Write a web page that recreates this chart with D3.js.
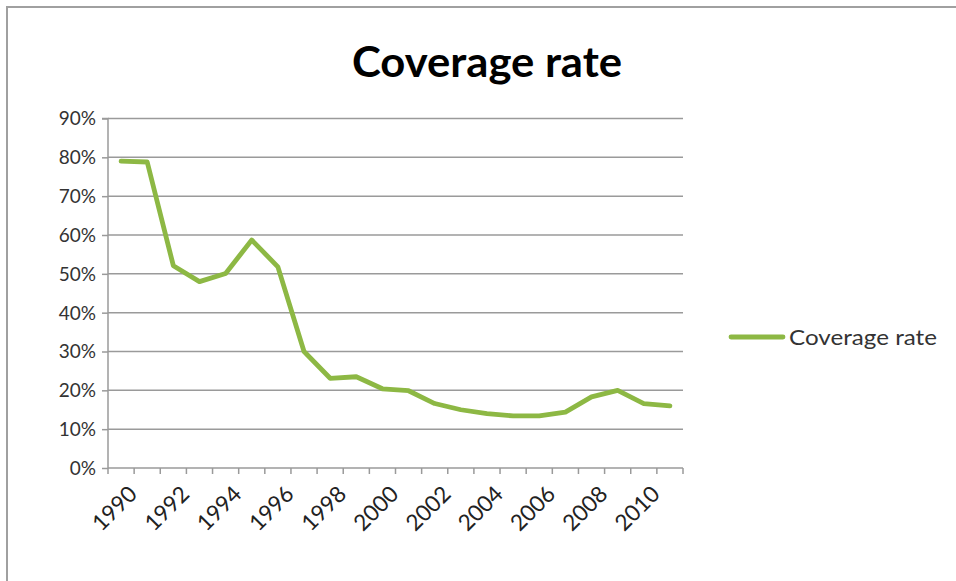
<!DOCTYPE html>
<html><head><meta charset="utf-8">
<script src="https://cdn.jsdelivr.net/npm/d3@7"></script>
<style>html,body{margin:0;padding:0;background:#fff;}svg{display:block;}</style>
</head><body>
<svg id="c" width="956" height="581"></svg>
<script>
const years = ["1990","1991","1992","1993","1994","1995","1996","1997","1998","1999","2000","2001","2002","2003","2004","2005","2006","2007","2008","2009","2010","2011"];
const coverage = [0.790,0.788,0.521,0.480,0.501,0.587,0.518,0.300,0.231,0.235,0.204,0.199,0.166,0.150,0.140,0.134,0.134,0.144,0.183,0.200,0.166,0.160];
const yTicks = [0,0.1,0.2,0.3,0.4,0.5,0.6,0.7,0.8,0.9];
const yearLabels = ["1990","1992","1994","1996","1998","2000","2002","2004","2006","2008","2010"];
const seriesName = "Coverage rate";
const chartTitle = "Coverage rate";

const svg = d3.select("#c");
const font = "Lato, 'Open Sans', sans-serif";
const pLeft = 108, pRight = 683, pTop = 118.5, pBottom = 468;

svg.append("rect").attr("x",7).attr("y",7).attr("width",1100).attr("height",1100)
  .attr("fill","#fff").attr("stroke","#a0a0a0").attr("stroke-width",2);

const x = d3.scaleBand().domain(years).range([pLeft,pRight]).paddingInner(0).paddingOuter(0);
const y = d3.scaleLinear().domain([0,0.9]).range([pBottom,pTop]);

// gridlines
svg.append("g").selectAll("line").data(yTicks.filter(d=>d>0)).join("line")
  .attr("x1",pLeft).attr("x2",pRight).attr("y1",d=>y(d)).attr("y2",d=>y(d))
  .attr("stroke","#9a9a9a").attr("stroke-width",1.5);

// y axis
const yAxis = svg.append("g").attr("transform",`translate(${pLeft},0)`)
  .call(d3.axisLeft(y).tickValues(yTicks).tickFormat(d3.format(".0%")).tickSize(6).tickPadding(6));
yAxis.select(".domain").attr("stroke","#9a9a9a").attr("stroke-width",1.5).attr("d",`M-6,${pTop}H0V${pBottom}`);
yAxis.selectAll(".tick line").attr("stroke","#9a9a9a").attr("stroke-width",1.5);
yAxis.selectAll(".tick text").attr("font-family",font).attr("font-size",19).attr("fill","#333").attr("dy","0.34em");

// x axis
const xAxis = svg.append("g").attr("transform",`translate(0,${pBottom})`);
xAxis.append("line").attr("x1",pLeft).attr("x2",pRight).attr("stroke","#9a9a9a").attr("stroke-width",1.5);
const boundaries = years.map(d=>x(d)).concat([pRight]);
xAxis.selectAll("line.t").data(boundaries).join("line").attr("class","t")
  .attr("x1",d=>d).attr("x2",d=>d).attr("y1",0).attr("y2",6)
  .attr("stroke","#9a9a9a").attr("stroke-width",1.5);
xAxis.selectAll("text").data(yearLabels).join("text")
  .attr("transform",d=>`translate(${x(d)+x.bandwidth()/2+6},${16}) rotate(-45)`)
  .attr("text-anchor","end").attr("dy","0.72em")
  .attr("font-family",font).attr("font-size",22.5).attr("fill","#222").text(d=>d);

// line
const line = d3.line().x((d,i)=>x(years[i])+x.bandwidth()/2).y(d=>y(d));
svg.append("path").datum(coverage).attr("d",line).attr("fill","none")
  .attr("stroke","#8DB844").attr("stroke-width",4.8).attr("stroke-linejoin","round").attr("stroke-linecap","round");

// title
svg.append("text").attr("x",487).attr("y",77).attr("text-anchor","middle")
  .attr("font-family",font).attr("font-weight","bold").attr("font-size",42).attr("fill","#000")
  .attr("textLength",270).attr("lengthAdjust","spacingAndGlyphs").text(chartTitle);

// legend
svg.append("line").attr("x1",731).attr("x2",783).attr("y1",337).attr("y2",337)
  .attr("stroke","#8DB844").attr("stroke-width",4.8).attr("stroke-linecap","round");
svg.append("text").attr("x",789).attr("y",337).attr("dy","0.35em")
  .attr("font-family",font).attr("font-size",22).attr("fill","#333")
  .attr("textLength",148).attr("lengthAdjust","spacingAndGlyphs").text(seriesName);
</script>
</body></html>
